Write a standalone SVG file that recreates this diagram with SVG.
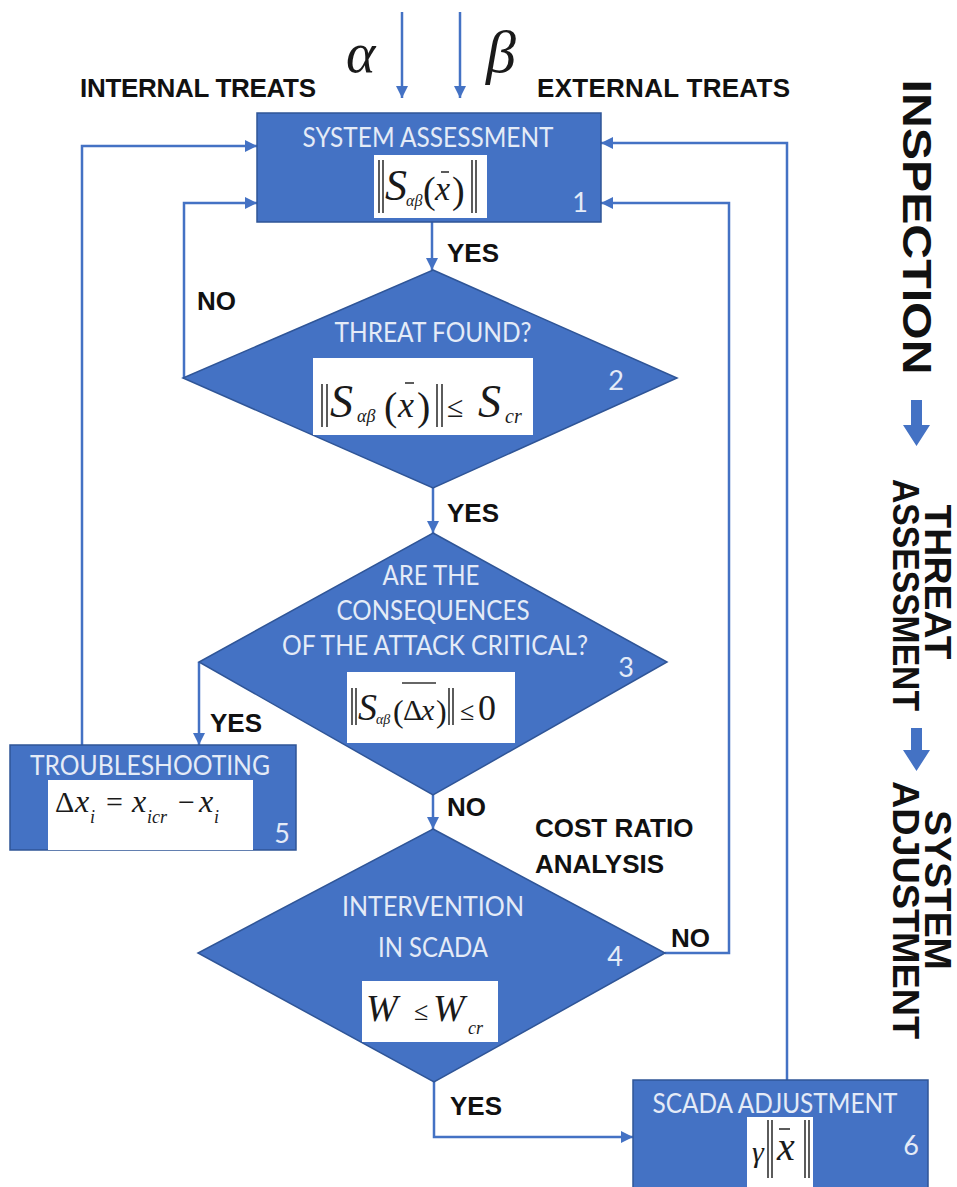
<svg xmlns="http://www.w3.org/2000/svg" width="957" height="1187" viewBox="0 0 957 1187">
<style>
.node{fill:#4472C4;stroke:#2F5597;stroke-width:1.5}
.nt{font-family:Lato,"Open Sans","Liberation Sans",sans-serif;font-size:27px;fill:#E4EBF7;text-anchor:middle}
.lbl{font-family:"Liberation Sans",Arial,sans-serif;font-weight:bold;font-size:26px;fill:#111}
.side{font-family:"Liberation Sans",Arial,sans-serif;font-weight:bold;fill:#111;text-anchor:middle}
.fb{fill:#fff}
.m{font-family:"Liberation Serif","Times New Roman",serif;font-style:italic;fill:#1a1a1a}
.mu{font-family:"Liberation Serif","Times New Roman",serif;fill:#1a1a1a}
.bar{stroke:#333;stroke-width:1.6}
.conn{stroke:#4472C4;stroke-width:2.5;fill:none}
.blk{fill:#4472C4}
</style>
<defs>
<marker id="ah" markerUnits="userSpaceOnUse" markerWidth="14" markerHeight="14" refX="12" refY="7" orient="auto">
<path d="M0,1 L12,7 L0,13 Z" fill="#4472C4"/>
</marker>
</defs>

<g id="connectors">
<line class="conn" x1="402" y1="12" x2="402" y2="98" marker-end="url(#ah)"/>
<line class="conn" x1="460" y1="12" x2="460" y2="98" marker-end="url(#ah)"/>
<line class="conn" x1="432" y1="222" x2="432" y2="270" marker-end="url(#ah)"/>
<polyline class="conn" points="184,378 184,203 257,203" marker-end="url(#ah)"/>
<polyline class="conn" points="82,745 82,146 257,146" marker-end="url(#ah)"/>
<line class="conn" x1="433" y1="488" x2="433" y2="533" marker-end="url(#ah)"/>
<line class="conn" x1="199" y1="662" x2="199" y2="745" marker-end="url(#ah)"/>
<line class="conn" x1="433" y1="795" x2="433" y2="829" marker-end="url(#ah)"/>
<polyline class="conn" points="665,953 729,953 729,203 601,203" marker-end="url(#ah)"/>
<polyline class="conn" points="434,1082 434,1137 633,1137" marker-end="url(#ah)"/>
<polyline class="conn" points="787,1080 787,143 601,143" marker-end="url(#ah)"/>
</g>

<g id="labels">
<text class="lbl" x="80" y="97" textLength="236">INTERNAL TREATS</text>
<text class="lbl" x="537" y="97" textLength="253">EXTERNAL TREATS</text>
<text class="m" x="346" y="72" font-size="56">α</text>
<text class="m" x="486" y="72" font-size="60">β</text>
<text class="lbl" x="447" y="262">YES</text>
<text class="lbl" x="197" y="310">NO</text>
<text class="lbl" x="447" y="522">YES</text>
<text class="lbl" x="210" y="732">YES</text>
<text class="lbl" x="447" y="816">NO</text>
<text class="lbl" x="535" y="837">COST RATIO</text>
<text class="lbl" x="535" y="873">ANALYSIS</text>
<text class="lbl" x="671" y="947">NO</text>
<text class="lbl" x="450" y="1115">YES</text>
</g>

<g id="node1">
<rect class="node" x="257" y="113" width="344" height="109"/>
<text class="nt" x="428" y="147" textLength="251" lengthAdjust="spacingAndGlyphs">SYSTEM ASSESSMENT</text>
<rect class="fb" x="374" y="155" width="113" height="63"/>
<line class="bar" x1="379" y1="160" x2="379" y2="213"/><line class="bar" x1="383" y1="160" x2="383" y2="213"/>
<text class="m" x="385" y="200" font-size="44">S</text>
<text class="m" x="406" y="206" font-size="16">αβ</text>
<text class="mu" x="423" y="203" font-size="38">(</text>
<text class="m" x="435" y="200" font-size="34">x</text>
<line class="bar" x1="441" y1="172" x2="449" y2="172"/>
<text class="mu" x="452" y="203" font-size="38">)</text>
<line class="bar" x1="472" y1="160" x2="472" y2="213"/><line class="bar" x1="476" y1="160" x2="476" y2="213"/>
<text class="nt" x="580" y="212">1</text>
</g>

<g id="node2">
<polygon class="node" points="433,270 677,378 433,488 183,378"/>
<text class="nt" x="433" y="342" textLength="197" lengthAdjust="spacingAndGlyphs">THREAT FOUND?</text>
<rect class="fb" x="313" y="358" width="220" height="77"/>
<line class="bar" x1="322" y1="384" x2="322" y2="427"/><line class="bar" x1="327" y1="384" x2="327" y2="427"/>
<text class="m" x="330" y="417" font-size="46">S</text>
<text class="m" x="357" y="422" font-size="18">αβ</text>
<text class="mu" x="384" y="420" font-size="40">(</text>
<text class="m" x="398" y="417" font-size="36">x</text>
<line class="bar" x1="405" y1="383" x2="414" y2="383"/>
<text class="mu" x="417" y="420" font-size="40">)</text>
<line class="bar" x1="437" y1="384" x2="437" y2="427"/><line class="bar" x1="442" y1="384" x2="442" y2="427"/>
<text class="mu" x="447" y="417" font-size="30">≤</text>
<text class="m" x="478" y="417" font-size="46">S</text>
<text class="m" x="505" y="423" font-size="20">cr</text>
<text class="nt" x="616" y="390">2</text>
</g>

<g id="node3">
<polygon class="node" points="433,533 667,662 433,795 199,662"/>
<text class="nt" x="431" y="585" textLength="97" lengthAdjust="spacingAndGlyphs">ARE THE</text>
<text class="nt" x="433" y="620" textLength="193" lengthAdjust="spacingAndGlyphs">CONSEQUENCES</text>
<text class="nt" x="435" y="655" textLength="306" lengthAdjust="spacingAndGlyphs">OF THE ATTACK CRITICAL?</text>
<rect class="fb" x="347" y="672" width="168" height="71"/>
<line class="bar" x1="352" y1="688" x2="352" y2="725"/><line class="bar" x1="356" y1="688" x2="356" y2="725"/>
<text class="m" x="358" y="720" font-size="38">S</text>
<text class="m" x="376" y="724" font-size="14">αβ</text>
<text class="mu" x="393" y="722" font-size="32">(</text>
<text class="mu" x="403" y="720" font-size="30">Δ</text>
<text class="m" x="421" y="720" font-size="30">x</text>
<line class="bar" x1="402" y1="683" x2="436" y2="683"/>
<text class="mu" x="436" y="722" font-size="32">)</text>
<line class="bar" x1="449" y1="688" x2="449" y2="725"/><line class="bar" x1="453" y1="688" x2="453" y2="725"/>
<text class="mu" x="460" y="720" font-size="26">≤</text>
<text class="mu" x="478" y="720" font-size="36">0</text>
<text class="nt" x="626" y="677">3</text>
</g>

<g id="node4">
<polygon class="node" points="433,829 665,953 434,1082 198,953"/>
<text class="nt" x="433" y="916" textLength="182" lengthAdjust="spacingAndGlyphs">INTERVENTION</text>
<text class="nt" x="433" y="957" textLength="110" lengthAdjust="spacingAndGlyphs">IN SCADA</text>
<rect class="fb" x="362" y="981" width="136" height="61"/>
<text class="m" x="366" y="1021" font-size="38">W</text>
<text class="mu" x="414" y="1020" font-size="26">≤</text>
<text class="m" x="433" y="1021" font-size="38">W</text>
<text class="m" x="468" y="1034" font-size="18">cr</text>
<text class="nt" x="615" y="966">4</text>
</g>

<g id="node5">
<rect class="node" x="10" y="745" width="286" height="105"/>
<text class="nt" x="150" y="775" textLength="240" lengthAdjust="spacingAndGlyphs">TROUBLESHOOTING</text>
<rect class="fb" x="48" y="780" width="205" height="70"/>
<text class="mu" x="55" y="812" font-size="30">Δ</text>
<text class="m" x="75" y="812" font-size="32">x</text>
<text class="m" x="90" y="823" font-size="18">i</text>
<text class="mu" x="106" y="812" font-size="30">=</text>
<text class="m" x="132" y="812" font-size="32">x</text>
<text class="m" x="147" y="823" font-size="18">icr</text>
<text class="mu" x="178" y="812" font-size="30">−</text>
<text class="m" x="199" y="812" font-size="32">x</text>
<text class="m" x="214" y="823" font-size="18">i</text>
<text class="nt" x="282" y="843">5</text>
</g>

<g id="node6">
<rect class="node" x="633" y="1080" width="295" height="112"/>
<text class="nt" x="775" y="1113" textLength="245" lengthAdjust="spacingAndGlyphs">SCADA ADJUSTMENT</text>
<rect class="fb" x="747" y="1117" width="66" height="72"/>
<text class="m" x="752" y="1162" font-size="30">γ</text>
<line class="bar" x1="768" y1="1120" x2="768" y2="1178"/><line class="bar" x1="772" y1="1120" x2="772" y2="1178"/>
<text class="m" x="777" y="1160" font-size="40">x</text>
<line class="bar" x1="779" y1="1129" x2="790" y2="1129"/>
<line class="bar" x1="805" y1="1120" x2="805" y2="1178"/><line class="bar" x1="809" y1="1120" x2="809" y2="1178"/>
<text class="nt" x="911" y="1155">6</text>
</g>

<g id="stages">
<text class="side" font-size="40" transform="translate(903,227) rotate(90)" textLength="295" lengthAdjust="spacingAndGlyphs">INSPECTION</text>
<path class="blk" d="M911,400 H922 V425 H930 L916.5,446 L903,425 H911 Z"/>
<text class="side" font-size="36" transform="translate(925,582) rotate(90)" textLength="155" lengthAdjust="spacingAndGlyphs">THREAT</text>
<text class="side" font-size="36" transform="translate(893,595) rotate(90)" textLength="232" lengthAdjust="spacingAndGlyphs">ASSESSMENT</text>
<path class="blk" d="M911,728 H922 V750 H930 L916.5,771 L903,750 H911 Z"/>
<text class="side" font-size="36" transform="translate(925,890) rotate(90)" textLength="160" lengthAdjust="spacingAndGlyphs">SYSTEM</text>
<text class="side" font-size="36" transform="translate(893,910) rotate(90)" textLength="258" lengthAdjust="spacingAndGlyphs">ADJUSTMENT</text>
</g>
</svg>
